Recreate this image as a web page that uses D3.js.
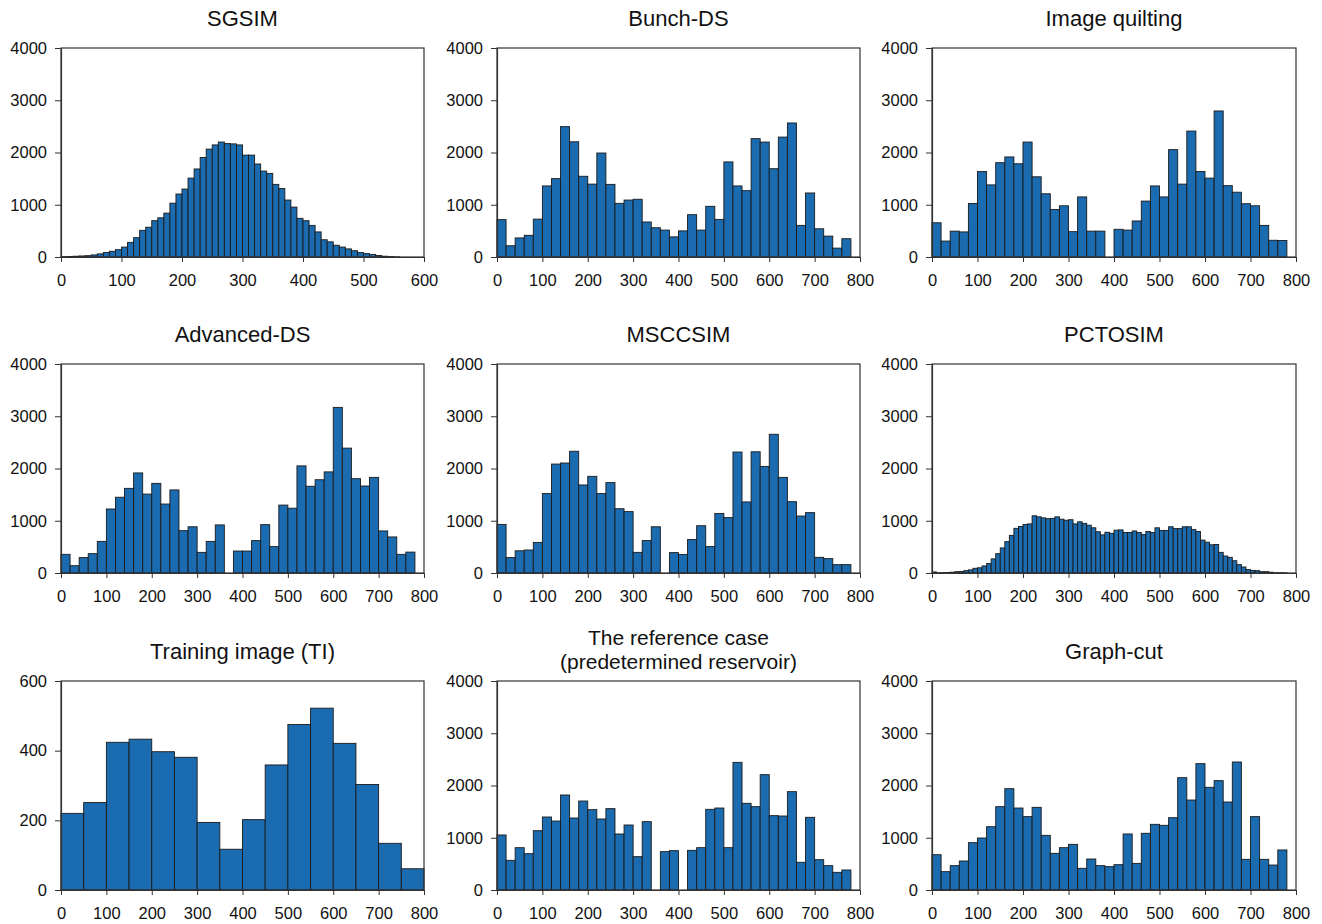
<!DOCTYPE html>
<html>
<head>
<meta charset="utf-8">
<script src="https://cdn.jsdelivr.net/npm/d3@7"></script>
<style>
  body { margin: 0; background: #fff; }
  text { font-family: Arial, "Liberation Sans", sans-serif; fill: #111; }
</style>
</head>
<body>
<div id="display"></div>
<script>
let w = 1322;
let h = 924;

// bar heights (counts per bin)
const sgsimVals = [5, 10, 15, 20, 25, 40, 60, 85, 110, 140, 190, 280, 370, 510, 570, 695, 750, 840, 1030, 1205,
  1300, 1510, 1685, 1905, 2065, 2145, 2200, 2170, 2165, 2145, 1950, 1950, 1780, 1645, 1600, 1390, 1310, 1090, 955, 740,
  695, 605, 480, 330, 290, 225, 190, 155, 120, 85, 65, 50, 30, 15, 8, 2];
const bunchVals = [715, 215, 365, 415, 725, 1360, 1500, 2495, 2205, 1545, 1395, 1990, 1390, 1027, 1090, 1105, 670, 560, 515, 385,
  500, 810, 515, 970, 720, 1820, 1360, 1270, 2265, 2200, 1690, 2295, 2565, 605, 1225, 540, 400, 170, 350];
const quiltVals = [655, 305, 495, 480, 1025, 1635, 1380, 1805, 1915, 1785, 2200, 1535, 1210, 910, 980, 485, 1150, 495, 495, 0,
  530, 515, 690, 1070, 1360, 1150, 2055, 1395, 2410, 1635, 1510, 2795, 1365, 1240, 1020, 980, 605, 320, 315];
const advVals = [357, 140, 295, 370, 605, 1225, 1450, 1620, 1915, 1510, 1715, 1320, 1590, 810, 885, 395, 605, 920, 0, 420,
  420, 620, 925, 505, 1300, 1240, 2050, 1660, 1785, 1935, 3170, 2390, 1805, 1665, 1830, 805, 690, 357, 400];
const msccVals = [930, 295, 425, 440, 585, 1520, 2085, 2105, 2330, 1685, 1850, 1520, 1730, 1230, 1175, 395, 620, 885, 0, 390,
  355, 640, 905, 505, 1140, 1060, 2315, 1360, 2320, 2040, 2655, 1830, 1365, 1090, 1155, 300, 275, 160, 160];
const pctoVals = [20, 5, 5, 10, 15, 25, 30, 45, 60, 90, 100, 135, 180, 270, 370, 480, 600, 720, 855, 890,
  930, 940, 1095, 1075, 1055, 1040, 1045, 1075, 1030, 1010, 1020, 940, 980, 950, 915, 865, 790, 730, 780, 760,
  820, 825, 775, 775, 805, 775, 735, 795, 775, 865, 815, 815, 885, 850, 850, 885, 885, 830, 795, 630,
  590, 540, 545, 395, 325, 300, 235, 160, 115, 65, 50, 45, 25, 25, 15, 5, 5, 3];
const tiVals = [220, 251, 424, 433, 397, 381, 194, 117, 202, 359, 475, 522, 421, 303, 134, 61];
const refVals = [1053, 568, 810, 695, 1135, 1397, 1320, 1818, 1378, 1703, 1537, 1359, 1557, 1072, 1244, 638, 1308, 0, 734, 753,
  0, 759, 810, 1544, 1569, 810, 2443, 1659, 1595, 2207, 1423, 1416, 1882, 530, 1391, 580, 466, 338, 383];
const gcutVals = [676, 351, 466, 555, 906, 995, 1212, 1595, 1939, 1569, 1404, 1582, 1046, 702, 810, 874, 415, 593, 466, 447,
  485, 1072, 510, 1085, 1257, 1238, 1384, 2150, 1722, 2418, 1965, 2093, 1684, 2450, 587, 1404, 587, 478, 766];

const countTicks = [0, 1000, 2000, 3000, 4000];
const tiCountTicks = [0, 200, 400, 600];
const valueTicks6 = [0, 100, 200, 300, 400, 500, 600];
const valueTicks8 = [0, 100, 200, 300, 400, 500, 600, 700, 800];

const panels = [
  { title: ['SGSIM'], vals: sgsimVals, bin: 10, xMax: 600, xt: valueTicks6, yMax: 4000, yt: countTicks, col: 0, row: 0 },
  { title: ['Bunch-DS'], vals: bunchVals, bin: 20, xMax: 800, xt: valueTicks8, yMax: 4000, yt: countTicks, col: 1, row: 0 },
  { title: ['Image quilting'], vals: quiltVals, bin: 20, xMax: 800, xt: valueTicks8, yMax: 4000, yt: countTicks, col: 2, row: 0 },
  { title: ['Advanced-DS'], vals: advVals, bin: 20, xMax: 800, xt: valueTicks8, yMax: 4000, yt: countTicks, col: 0, row: 1 },
  { title: ['MSCCSIM'], vals: msccVals, bin: 20, xMax: 800, xt: valueTicks8, yMax: 4000, yt: countTicks, col: 1, row: 1 },
  { title: ['PCTOSIM'], vals: pctoVals, bin: 10, xMax: 800, xt: valueTicks8, yMax: 4000, yt: countTicks, col: 2, row: 1 },
  { title: ['Training image (TI)'], vals: tiVals, bin: 50, xMax: 800, xt: valueTicks8, yMax: 600, yt: tiCountTicks, col: 0, row: 2 },
  { title: ['The reference case', '(predetermined reservoir)'], vals: refVals, bin: 20, xMax: 800, xt: valueTicks8, yMax: 4000, yt: countTicks, col: 1, row: 2 },
  { title: ['Graph-cut'], vals: gcutVals, bin: 20, xMax: 800, xt: valueTicks8, yMax: 4000, yt: countTicks, col: 2, row: 2 }
];

const colX = [[61, 424], [497, 860], [932, 1296]];
const rowY = [[48, 257], [364, 573], [681, 890]];

let viz = d3.select('#display')
  .append('svg')
    .attr('width', w)
    .attr('height', h);

panels.forEach((p) => {
  let [x0, x1] = colX[p.col];
  let [y0, y1] = rowY[p.row];
  let xScale = d3.scaleLinear().domain([0, p.xMax]).range([x0, x1]);
  let yScale = d3.scaleLinear().domain([0, p.yMax]).range([y1, y0]);
  let g = viz.append('g');

  let bins = p.vals.map((v, i) => ({ start: i * p.bin, v: v })).filter((d) => d.v > 0);
  g.selectAll('rect.bar')
    .data(bins)
    .join('rect')
      .attr('class', 'bar')
      .attr('x', (d) => xScale(d.start))
      .attr('width', (d) => xScale(d.start + p.bin) - xScale(d.start))
      .attr('y', (d) => yScale(d.v))
      .attr('height', (d) => yScale(0) - yScale(d.v))
      .attr('fill', '#1b6bb0')
      .attr('stroke', '#1a1a1a')
      .attr('stroke-width', 0.9);

  // frame
  g.append('rect')
    .attr('x', x0).attr('y', y0)
    .attr('width', x1 - x0).attr('height', y1 - y0)
    .attr('fill', 'none')
    .attr('stroke', '#333')
    .attr('stroke-width', 1.2);

  let xAxis = d3.axisBottom(xScale).tickValues(p.xt).tickFormat(d3.format('d'))
    .tickSize(5).tickPadding(12).tickSizeOuter(0);
  let gx = g.append('g')
    .attr('transform', 'translate(0,' + y1 + ')')
    .call(xAxis);
  let yAxis = d3.axisLeft(yScale).tickValues(p.yt).tickFormat(d3.format('d'))
    .tickSize(6).tickPadding(8).tickSizeOuter(0);
  let gy = g.append('g')
    .attr('transform', 'translate(' + x0 + ',0)')
    .call(yAxis);
  [gx, gy].forEach((a) => {
    a.select('.domain').attr('stroke', '#333').attr('stroke-width', 1.2);
    a.selectAll('.tick line').attr('stroke', '#333');
    a.selectAll('.tick text').style('font-size', '16.5px').attr('fill', '#111')
      .style('font-family', 'Arial, "Liberation Sans", sans-serif');
  });

  let cx = (x0 + x1) / 2;
  let lines = p.title;
  lines.forEach((t, i) => {
    g.append('text')
      .attr('x', cx)
      .attr('y', lines.length === 1 ? y0 - 22 : y0 - 36 + i * 24)
      .attr('text-anchor', 'middle')
      .style('font-size', lines.length === 1 ? '22px' : '21px')
      .text(t);
  });
});
</script>
</body>
</html>
